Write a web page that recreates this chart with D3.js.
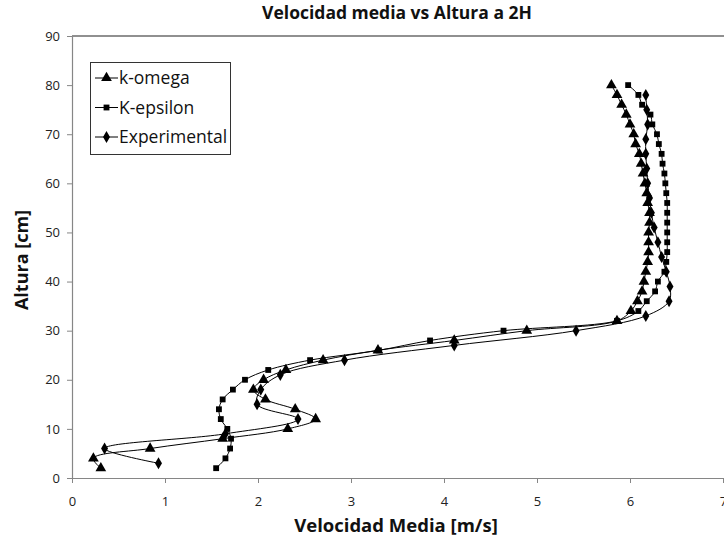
<!DOCTYPE html>
<html><head><meta charset="utf-8">
<script src="https://cdn.jsdelivr.net/npm/d3@7"></script>
<style>
body{margin:0;background:#fff;}
svg text{font-family:"Open Sans","Lato",sans-serif;}
</style></head>
<body><svg id="c" width="724" height="538"></svg>
<script>
// ---- data ----
const seriesNames = ["k-omega", "K-epsilon", "Experimental"];
const kOmegaHeights = [2,4,6,8,10,12,14,16,18,20,22,24,26,28,30,32,34,36,38,40,42,44,46,48,50,52,54,56,58,60,62,64,66,68,70,72,74,76,78,80];
const kOmegaVel = [0.31,0.23,0.84,1.62,2.32,2.62,2.40,2.08,1.95,2.06,2.30,2.70,3.29,4.11,4.89,5.86,6.01,6.08,6.13,6.15,6.17,6.19,6.20,6.20,6.20,6.21,6.21,6.19,6.18,6.16,6.14,6.12,6.10,6.06,6.04,6.00,5.96,5.91,5.86,5.80];
const kEpsHeights = [2,4,6,8,10,12,14,16,18,20,22,24,26,28,30,32,34,36,38,40,42,44,46,48,50,52,54,56,58,60,62,64,66,68,70,72,74,76,78,80];
const kEpsVel = [1.55,1.65,1.70,1.71,1.67,1.60,1.58,1.62,1.73,1.86,2.11,2.56,3.30,3.85,4.64,5.86,6.09,6.18,6.27,6.30,6.37,6.39,6.40,6.40,6.40,6.40,6.40,6.40,6.39,6.38,6.37,6.35,6.34,6.31,6.29,6.24,6.22,6.13,6.09,5.98];
const expHeights = [3,6,9,12,15,18,21,24,27,30,33,36,39,42,45,48,51,54,57,60,63,66,69,72,75,78];
const expVel = [0.93,0.35,1.65,2.43,1.99,2.03,2.24,2.93,4.11,5.42,6.17,6.42,6.43,6.39,6.34,6.30,6.26,6.23,6.21,6.19,6.18,6.17,6.17,6.19,6.18,6.17];
const xTicks = [0,1,2,3,4,5,6,7];
const yTicks = [0,10,20,30,40,50,60,70,80,90];
const titleText = "Velocidad media vs Altura a 2H";
const xLabel = "Velocidad Media [m/s]";
const yLabel = "Altura [cm]";

// ---- drawing ----
const svg = d3.select("#c");
const x = d3.scaleLinear().domain([0,7]).range([72,723]);
const y = d3.scaleLinear().domain([0,90]).range([478,36]);
const axisColor = "#868686";

// top frame line
svg.append("line").attr("x1",x(0)).attr("x2",x(7)+2).attr("y1",y(90)).attr("y2",y(90))
  .attr("stroke","#222").attr("stroke-width",1.2);

const xAxis = svg.append("g").attr("transform",`translate(0,${y(0)})`)
  .call(d3.axisBottom(x).tickValues(xTicks).tickSize(5).tickSizeOuter(0).tickPadding(14).tickFormat(d3.format("d")));
const yAxis = svg.append("g").attr("transform",`translate(${x(0)},0)`)
  .call(d3.axisLeft(y).tickValues(yTicks).tickSize(5).tickSizeOuter(0).tickPadding(7).tickFormat(d3.format("d")));
[xAxis,yAxis].forEach(a=>{
  a.select(".domain").attr("stroke",axisColor).attr("stroke-width",1.2);
  a.selectAll(".tick line").attr("stroke",axisColor);
  a.selectAll(".tick text").attr("fill","#222").attr("font-size",13)
   .attr("font-family",'"Open Sans",sans-serif');
});

const symTri = d3.symbol().type(d3.symbolTriangle).size(50);
const symSq = d3.symbol().type(d3.symbolSquare).size(34);
const symDia = d3.symbol().type(d3.symbolDiamond).size(42);

const series = [
  {name:seriesNames[0], v:kOmegaVel, h:kOmegaHeights, sym:symTri},
  {name:seriesNames[1], v:kEpsVel, h:kEpsHeights, sym:symSq},
  {name:seriesNames[2], v:expVel, h:expHeights, sym:symDia}
];

const line = d3.line().x(d=>x(d[0])).y(d=>y(d[1])).curve(d3.curveCatmullRom.alpha(0.5));
series.forEach(s=>{
  const pts = s.v.map((v,i)=>[v,s.h[i]]);
  svg.append("path").attr("d",line(pts)).attr("fill","none").attr("stroke","#000").attr("stroke-width",1);
  svg.append("g").selectAll("path").data(pts).join("path")
    .attr("d",s.sym).attr("transform",d=>`translate(${x(d[0])},${y(d[1])})`).attr("fill","#000");
});

// legend
const lg = svg.append("g");
lg.append("rect").attr("x",90.5).attr("y",62.5).attr("width",140).attr("height",92)
  .attr("fill","#fff").attr("stroke","#333").attr("stroke-width",1);
series.forEach((s,i)=>{
  const cy = 78 + i*29.5;
  lg.append("line").attr("x1",95).attr("x2",118).attr("y1",cy).attr("y2",cy).attr("stroke","#000").attr("stroke-width",1);
  lg.append("path").attr("d",s.sym).attr("transform",`translate(106.5,${cy})`).attr("fill","#000");
  lg.append("text").attr("x",119).attr("y",cy).attr("dy","0.36em").attr("font-size",17.5).attr("fill","#111").text(s.name);
});

// titles
svg.append("text").attr("x",397).attr("y",19).attr("text-anchor","middle").attr("font-weight","bold")
  .attr("font-size",17.5).attr("fill","#111").text(titleText);
svg.append("text").attr("x",396).attr("y",532).attr("text-anchor","middle").attr("font-weight","bold")
  .attr("font-size",18.5).attr("fill","#111").text(xLabel);
svg.append("text").attr("transform","translate(28,260) rotate(-90)").attr("text-anchor","middle").attr("font-weight","bold")
  .attr("font-size",18).attr("fill","#111").text(yLabel);
</script></body></html>
